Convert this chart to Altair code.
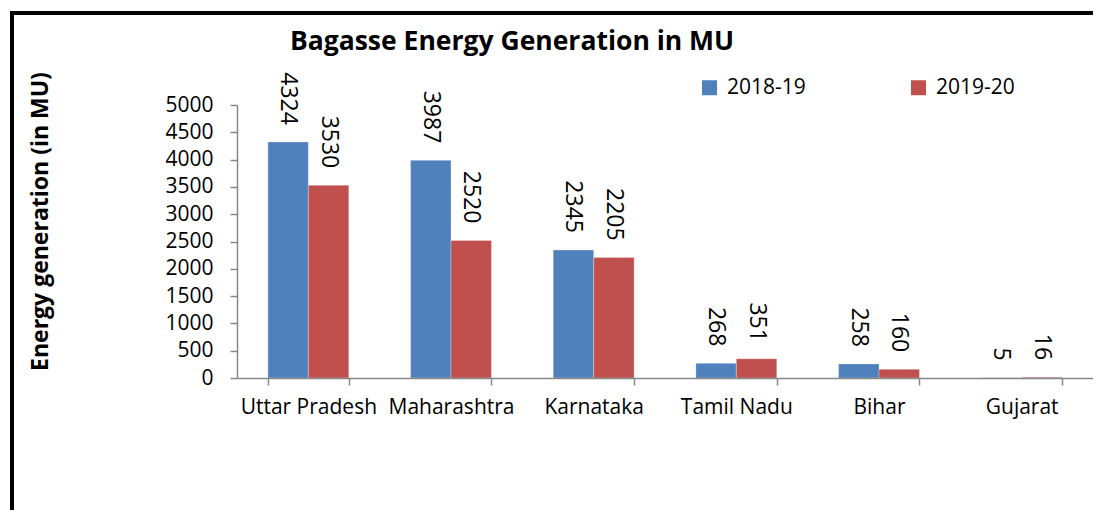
import altair as alt
import pandas as pd

states = ["Uttar Pradesh", "Maharashtra", "Karnataka", "Tamil Nadu", "Bihar", "Gujarat"]
gen_2018_19 = [4324, 3987, 2345, 268, 258, 5]
gen_2019_20 = [3530, 2520, 2205, 351, 160, 16]
years = ["2018-19", "2019-20"]
colors = ["#4F81BD", "#C0504D"]
y_ticks = [0, 500, 1000, 1500, 2000, 2500, 3000, 3500, 4000, 4500, 5000]

rows = []
for s, a, b in zip(states, gen_2018_19, gen_2019_20):
    rows.append({"state": s, "year": years[0], "value": a})
    rows.append({"state": s, "year": years[1], "value": b})
df = pd.DataFrame(rows)

FONT = "Open Sans"
W, H = 856, 273

x_enc = alt.X("state:N", sort=states,
              scale=alt.Scale(paddingInner=0.433, paddingOuter=0.2165),
              axis=alt.Axis(title=None, labelAngle=0, tickBand="extent", tickSize=7,
                            labelPadding=11, labelFontSize=21, labelFont=FONT,
                            labelColor="#000", domainColor="#888", tickColor="#888",
                            domainWidth=1.5, tickWidth=1.5, grid=False, zindex=1))
y_enc = alt.Y("value:Q", scale=alt.Scale(domain=[0, 5000], nice=False),
              axis=alt.Axis(values=y_ticks, format="d", grid=False,
                            labelOverlap=False, tickSize=7,
                            labelPadding=17, labelFontSize=21, labelFont=FONT,
                            labelColor="#000", domainColor="#888", tickColor="#888",
                            domainWidth=1.5, tickWidth=1.5, zindex=1,
                            title="Energy generation (in MU)", titleFont=FONT,
                            titleFontSize=23, titleFontWeight="bold", titleColor="#000",
                            titleAngle=-90, titleX=-197, titleY=116,
                            titleAlign="center", titleBaseline="middle"))

base = alt.Chart(df).encode(
    x=x_enc,
    xOffset=alt.XOffset("year:N", sort=years),
    y=y_enc,
)

bars = base.mark_bar(stroke="white", strokeWidth=0.3).encode(
    color=alt.Color("year:N", sort=years,
                    scale=alt.Scale(domain=years, range=colors),
                    legend=alt.Legend(title=None, orient="none", legendX=462, legendY=-28,
                                      direction="horizontal", columns=2,
                                      symbolType="square", symbolSize=225,
                                      symbolStrokeWidth=0, symbolOpacity=1,
                                      labelFontSize=21, labelFont=FONT, labelColor="#000",
                                      labelOffset=7, columnPadding=102)),
)

labels = base.mark_text(angle=90, align="right", baseline="middle", dx=-17,
                        fontSize=23, font=FONT, color="#000").encode(
    text="value:Q",
)

frame_left = alt.Chart(df).mark_rule(color="#000", strokeWidth=4).encode(
    x=alt.value(-225), y=alt.value(-92), y2=alt.value(H + 140))
frame_top = alt.Chart(df).mark_rule(color="#000", strokeWidth=4).encode(
    x=alt.value(-227), x2=alt.value(W + 20), y=alt.value(-92))

chart = alt.layer(frame_left, frame_top, bars, labels).properties(
    width=W, height=H,
    background="white",
    autosize=alt.AutoSizeParams(type="none"),
    padding={"left": 229, "top": 97, "right": 0, "bottom": 132},
    title=alt.TitleParams("Bagasse Energy Generation in MU", font=FONT, fontSize=26.5,
                          fontWeight="bold", color="#000", anchor="middle",
                          dx=-153, offset=0, dy=44),
).configure_view(stroke="white", strokeWidth=3)

chart.save("out.html", embed_options={"renderer": "svg", "actions": False})
